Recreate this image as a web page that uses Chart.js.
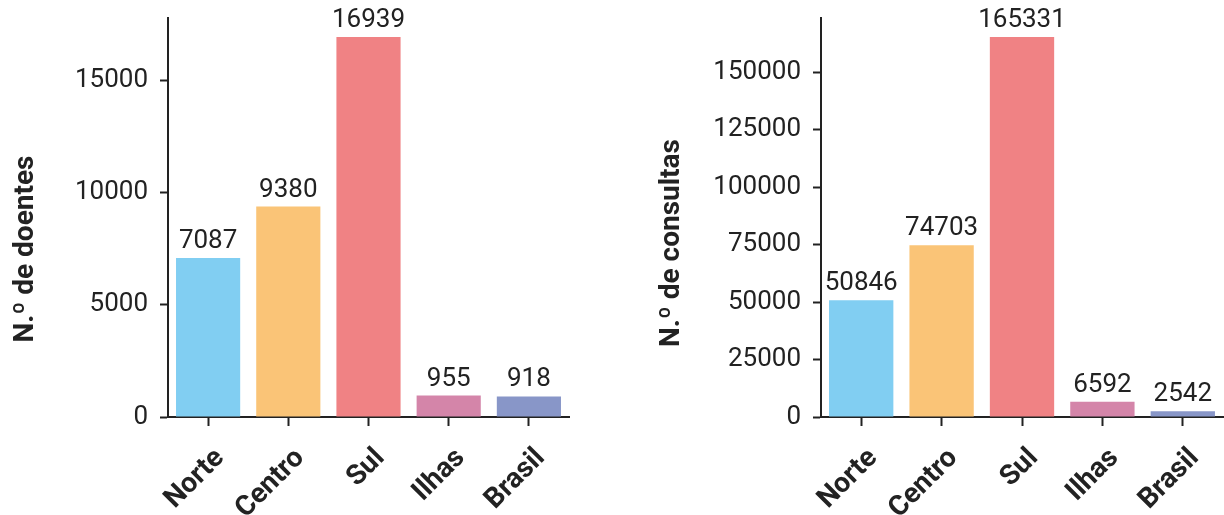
<!DOCTYPE html>
<html>
<head>
<meta charset="utf-8">
<script src="https://cdn.jsdelivr.net/npm/chart.js@4/dist/chart.umd.min.js"></script>
<style>
  html, body { margin: 0; padding: 0; background: #fff; }
  .row { display: flex; width: 1224px; height: 515px; }
  .cell { position: relative; width: 612px; height: 515px; }
</style>
</head>
<body>
<div class="row">
  <div class="cell"><canvas id="doentes"></canvas></div>
  <div class="cell"><canvas id="consultas"></canvas></div>
</div>
<script>
// Regiões e respetivos totais
const regioes = ['Norte', 'Centro', 'Sul', 'Ilhas', 'Brasil'];
const doentes = [7087, 9380, 16939, 955, 918];
const consultas = [50846, 74703, 165331, 6592, 2542];
const coresRegioes = ['#81CEF2', '#FAC477', '#F08284', '#D485A9', '#8896C8'];

// Marcas do eixo vertical
const marcasDoentes = [0, 5000, 10000, 15000];
const marcasConsultas = [0, 25000, 50000, 75000, 100000, 125000, 150000];

const tituloDoentes = 'N.º de doentes';
const tituloConsultas = 'N.º de consultas';

const INK = '#222222';
const FONT = 'Roboto, "Liberation Sans", sans-serif';

// Valor escrito por cima de cada barra
const rotulosValores = {
  id: 'rotulosValores',
  afterDatasetsDraw(chart) {
    const ctx = chart.ctx;
    const meta = chart.getDatasetMeta(0);
    const valores = chart.data.datasets[0].data;
    ctx.save();
    ctx.font = '26px ' + FONT;
    ctx.fillStyle = INK;
    ctx.textAlign = 'center';
    ctx.textBaseline = 'alphabetic';
    meta.data.forEach((bar, i) => {
      ctx.fillText(String(valores[i]), bar.x, bar.y - 10);
    });
    ctx.restore();
  }
};

// Título do eixo vertical, rodado
const tituloEixo = {
  id: 'tituloEixo',
  afterDraw(chart, args, opts) {
    const ctx = chart.ctx;
    ctx.save();
    ctx.translate(opts.x, opts.y);
    ctx.rotate(-Math.PI / 2);
    ctx.font = 'bold 28px ' + FONT;
    ctx.fillStyle = INK;
    ctx.textAlign = 'center';
    ctx.textBaseline = 'alphabetic';
    ctx.fillText(opts.text, 0, 0);
    ctx.restore();
  }
};

function grafico(id, valores, marcas, titulo, larguraEixoY, margemDireita, tituloX, tituloY) {
  const maximo = Math.max(...valores) * 1.05;
  return new Chart(document.getElementById(id), {
    type: 'bar',
    data: {
      labels: regioes,
      datasets: [{
        data: valores,
        backgroundColor: coresRegioes,
        borderWidth: 0,
        categoryPercentage: 1.0,
        barPercentage: 0.8
      }]
    },
    options: {
      responsive: false,
      animation: false,
      devicePixelRatio: 1,
      layout: { padding: { top: 18, left: 0, right: margemDireita, bottom: 0 } },
      plugins: {
        legend: { display: false },
        tooltip: { enabled: false },
        tituloEixo: { text: titulo, x: tituloX, y: tituloY }
      },
      scales: {
        x: {
          offset: true,
          grid: {
            offset: false,
            drawOnChartArea: false,
            drawTicks: true,
            tickLength: 9,
            tickWidth: 2,
            tickColor: INK
          },
          border: { display: true, color: INK, width: 2 },
          ticks: {
            color: INK,
            font: { family: FONT, size: 28, weight: 'bold' },
            minRotation: 45,
            maxRotation: 45,
            padding: 16,
            labelOffset: 12,
            autoSkip: false
          },
          afterFit(scale) {
            scale.height = 98;
            scale.paddingLeft = 0;
            scale.paddingRight = 0;
          }
        },
        y: {
          min: 0,
          max: maximo,
          grid: {
            drawOnChartArea: false,
            drawTicks: true,
            tickLength: 8,
            tickWidth: 2,
            tickColor: INK
          },
          border: { display: true, color: INK, width: 2 },
          ticks: {
            color: INK,
            font: { family: FONT, size: 26 },
            padding: 12,
            callback: (v) => String(v)
          },
          afterBuildTicks(scale) {
            scale.ticks = marcas.map((v) => ({ value: v }));
          },
          afterFit(scale) {
            scale.width = larguraEixoY;
            scale.paddingTop = 0;
            scale.paddingBottom = 0;
          }
        }
      }
    },
    plugins: [rotulosValores, tituloEixo]
  });
}

function preparar(id) {
  const c = document.getElementById(id);
  c.width = 612; c.height = 515;
  c.style.width = '612px'; c.style.height = '515px';
}
preparar('doentes');
preparar('consultas');

grafico('doentes', doentes, marcasDoentes, tituloDoentes, 168, 43, 33, 249);
grafico('consultas', consultas, marcasConsultas, tituloConsultas, 209, 1, 67, 243);
</script>
</body>
</html>
